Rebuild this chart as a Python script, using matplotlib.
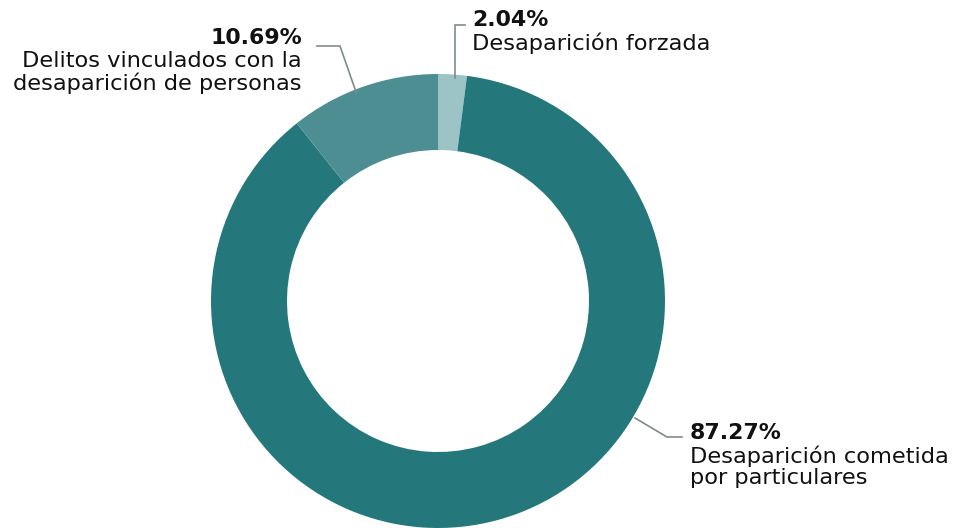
import matplotlib.pyplot as plt

categories = ['Desaparición forzada',
              'Desaparición cometida\npor particulares',
              'Delitos vinculados con la\ndesaparición de personas']
values = [2.04, 87.27, 10.69]
colors = ['#9cc3c5', '#24787b', '#4d8e93']

W, H = 954, 528
plt.rcParams['font.family'] = ['DejaVu Sans']

fig = plt.figure(figsize=(W / 100, H / 100), dpi=100)
ax = fig.add_axes([0, 0, 1, 1])

cx, cy, r = 438, H - 301, 227
ax.pie(values, colors=colors, startangle=90, counterclock=False,
       center=(cx, cy), radius=r, frame=True,
       wedgeprops=dict(width=76, linewidth=0))
ax.set_xlim(0, W)
ax.set_ylim(0, H)
ax.set_aspect('equal')
ax.axis('off')

line_kw = dict(color='#7f8a8c', lw=1.2)
txt_color = '#111111'


# leader lines, given in pixel coords from the top
def leader(pts):
    xs = [p[0] for p in pts]
    ys = [H - p[1] for p in pts]
    ax.plot(xs, ys, **line_kw)


leader([(455, 78), (455, 25), (465, 25)])
leader([(356, 92), (340, 46), (317, 46)])
leader([(635, 418), (667, 437), (682, 437)])


def label(x, y, pct, name, ha):
    ax.text(x, H - y, f'{pct:.2f}%', ha=ha, va='center', fontsize=15.8,
            fontweight='bold', color=txt_color)
    for i, line in enumerate(name.split('\n')):
        ax.text(x, H - (y + 23 + 22 * i), line, ha=ha, va='center',
                fontsize=16.2, color=txt_color)


label(472, 20, values[0], categories[0], 'left')
label(302, 38, values[2], categories[2], 'right')
label(690, 433, values[1], categories[1], 'left')

fig.savefig('out.png', dpi=100)
